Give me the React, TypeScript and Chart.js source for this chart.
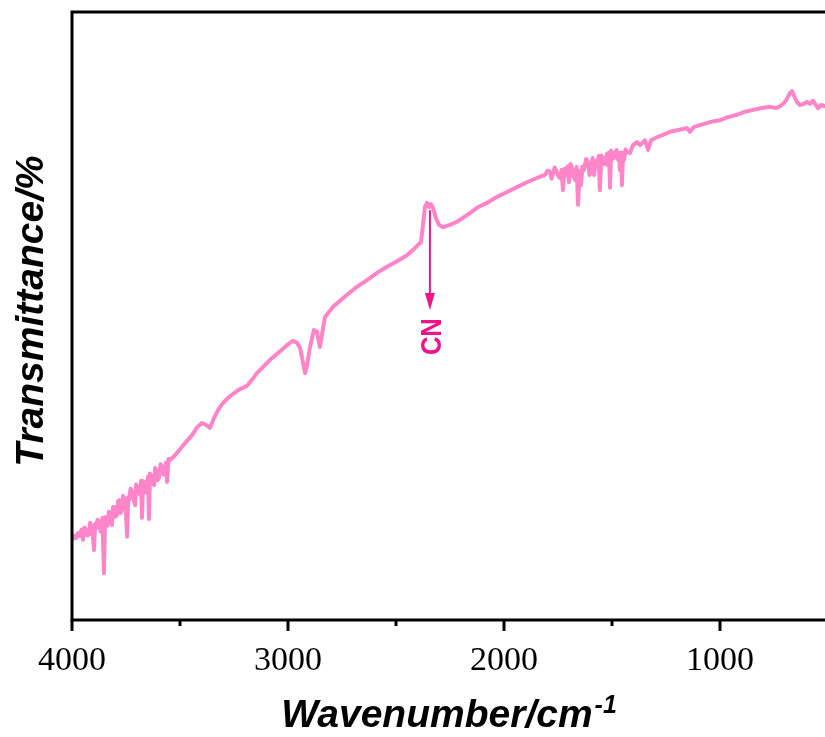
import React, { useEffect, useRef } from 'react';
import { Chart, registerables } from 'chart.js';

Chart.register(...registerables);

// Wavenumber (cm^-1) of each sampled point of the spectrum
const wavenumbers = [
  4000, 3990, 3981, 3972, 3963, 3956, 3949, 3942, 3935, 3928, 3921, 3916, 3912, 3905, 3898, 3893,
  3889, 3882, 3875, 3870, 3866, 3859, 3852, 3847, 3843, 3836, 3829, 3822, 3815, 3810, 3806, 3799,
  3792, 3787, 3782, 3775, 3769, 3764, 3759, 3752, 3745, 3740, 3736, 3729, 3722, 3715, 3708, 3703,
  3699, 3692, 3685, 3680, 3676, 3671, 3667, 3660, 3653, 3648, 3644, 3639, 3634, 3627, 3620, 3615,
  3611, 3604, 3597, 3590, 3583, 3576, 3569, 3564, 3560, 3553, 3546,
  3523, 3500, 3472, 3444, 3421, 3398, 3380, 3361, 3343, 3324,
  3301, 3269, 3231, 3190, 3167, 3144, 3116, 3083, 3046, 3005, 2977, 2958, 2944, 2931, 2921, 2912,
  2898, 2880, 2866, 2852, 2843, 2829, 2792, 2759, 2727, 2681, 2634, 2588, 2542, 2495, 2449, 2412,
  2384, 2375, 2366, 2356, 2347, 2338, 2329, 2315, 2301, 2282, 2250, 2218, 2171, 2125, 2079, 2032,
  1986, 1940, 1894, 1847,
  1810, 1798, 1787, 1780, 1773, 1766, 1759, 1750, 1741, 1734, 1727, 1720, 1713, 1706, 1699, 1692,
  1685, 1678, 1671, 1664, 1657, 1650, 1644, 1637, 1630, 1620, 1611, 1604, 1597, 1590, 1583, 1576,
  1569, 1562, 1556, 1549, 1542, 1535, 1528, 1523, 1519, 1514, 1509, 1504, 1500, 1493, 1486, 1479,
  1472, 1467, 1463, 1458, 1454, 1449, 1444, 1437,
  1431, 1417, 1403, 1384, 1370, 1347, 1333, 1319, 1292, 1264, 1231, 1194, 1153, 1139, 1120, 1093,
  1046, 1000, 963, 921, 884, 847, 806, 768, 741, 722, 704, 690, 676, 667, 657, 644,
  630, 611, 597, 583, 569, 556, 546, 532, 514,
];

// Transmittance (arbitrary %, axis unlabeled)
const transmittance = [
  13.2, 13.9, 13.5, 14.3, 13.8, 14.9, 13.2, 15.2, 14.8, 13.9, 14.1, 16.0, 15.6, 14.6, 11.5, 15.8,
  15.1, 16.5, 16.1, 15.0, 14.5, 16.8, 7.7, 16.9, 16.4, 15.5, 17.8, 16.9, 15.6, 18.6, 18.4, 17.0,
  17.3, 19.5, 19.7, 17.6, 18.1, 20.4, 20.1, 18.9, 13.7, 20.2, 19.7, 21.6, 21.1, 19.8, 18.9, 22.3,
  22.0, 20.9, 20.6, 22.9, 16.8, 22.8, 22.5, 21.0, 21.4, 23.6, 16.6, 24.1, 23.8, 22.5, 22.2, 25.0,
  24.7, 23.0, 23.4, 25.6, 25.3, 23.9, 24.3, 25.9, 22.7, 26.5, 26.3,
  27.1, 28.1, 29.3, 30.4, 31.7, 32.4, 32.1, 31.6, 33.2, 34.5,
  35.7, 36.8, 37.8, 38.5, 39.5, 40.6, 41.6, 42.8, 43.9, 45.2, 45.9, 45.6, 44.7, 42.4, 40.6, 41.9,
  44.9, 47.7, 47.4, 44.9, 46.9, 49.8, 51.5, 52.5, 53.5, 54.8, 55.9, 57.1, 58.1, 59.0, 60.0, 61.2,
  62.2, 65.0, 67.9, 68.6, 67.9, 68.4, 67.8, 66.1, 65.0, 64.6, 65.0, 65.5, 66.6, 67.8, 68.6, 69.6,
  70.4, 71.2, 72.0, 72.7,
  73.2, 73.9, 73.7, 72.6, 73.4, 74.4, 74.0, 73.1, 72.7, 74.0, 70.7, 74.2, 73.2, 74.6, 72.0, 75.0,
  74.3, 73.0, 72.4, 74.5, 68.3, 73.8, 71.5, 74.6, 74.0, 75.8, 75.3, 73.2, 74.3, 76.0, 73.2, 75.5,
  74.8, 76.3, 70.7, 76.4, 76.0, 75.0, 75.7, 76.7, 74.8, 76.9, 71.1, 77.2, 77.0, 75.9, 76.5, 77.3,
  75.7, 76.8, 74.0, 76.9, 71.5, 76.6, 75.7, 77.4,
  77.0, 76.8, 78.1, 78.6, 78.1, 78.9, 77.3, 78.9, 79.4, 79.8, 80.3, 80.6, 80.9, 80.3, 81.1, 81.4,
  81.9, 82.2, 82.7, 83.1, 83.6, 83.9, 84.2, 84.4, 84.2, 84.5, 85.0, 85.7, 86.7, 87.0, 86.2, 85.2,
  84.7, 84.9, 85.2, 84.9, 85.4, 84.7, 84.2, 84.7, 84.5,
];

const xMin = 500;
const xMax = 4000;
const yMin = 0;
const yMax = 100;
const tickValues = [4000, 3500, 3000, 2500, 2000, 1500, 1000, 500];
const majorTicks = [4000, 3000, 2000, 1000];
const xTickLabels = ['4000', '3000', '2000', '1000'];

const xTitleMain = 'Wavenumber/cm';
const xTitleSup = '-1';
const yTitle = 'Transmittance/%';

const annotationLabel = 'CN';
const annotationWavenumber = 2343;
const arrowStart = 67.4;
const arrowEnd = 51.0;
const annotationLabelAt = 46.6;

const LINE_COLOR = '#ff84c8';
const MARK_COLOR = '#f0148c';

const decorPlugin = {
  id: 'decor',
  afterDraw(chart: any) {
    const { ctx, chartArea, scales } = chart;
    const xs = scales.x;
    const ys = scales.y;
    const { left, top, right, bottom } = chartArea;
    ctx.save();

    // frame
    ctx.strokeStyle = '#000';
    ctx.lineWidth = 3;
    ctx.strokeRect(left, top, right - left, bottom - top);

    // ticks (outward)
    ctx.lineWidth = 3;
    for (const v of tickValues) {
      const px = Math.round(xs.getPixelForValue(v));
      const len = majorTicks.includes(v) ? 11 : 6;
      ctx.beginPath();
      ctx.moveTo(px, bottom);
      ctx.lineTo(px, bottom + len);
      ctx.stroke();
    }

    // arrow annotation
    const ax = xs.getPixelForValue(annotationWavenumber);
    const ay1 = ys.getPixelForValue(arrowStart);
    const ay2 = ys.getPixelForValue(arrowEnd);
    ctx.strokeStyle = MARK_COLOR;
    ctx.fillStyle = MARK_COLOR;
    ctx.lineWidth = 2;
    ctx.beginPath();
    ctx.moveTo(ax, ay1);
    ctx.lineTo(ax, ay2 - 14);
    ctx.stroke();
    ctx.beginPath();
    ctx.moveTo(ax, ay2);
    ctx.lineTo(ax - 5, ay2 - 17);
    ctx.lineTo(ax + 5, ay2 - 17);
    ctx.closePath();
    ctx.fill();

    // CN label (rotated)
    const ly = ys.getPixelForValue(annotationLabelAt);
    ctx.save();
    ctx.translate(ax + 11, ly);
    ctx.rotate(-Math.PI / 2);
    ctx.scale(0.85, 1);
    ctx.font = 'bold 30px "Liberation Sans", Arial, sans-serif';
    ctx.textAlign = 'center';
    ctx.textBaseline = 'alphabetic';
    ctx.fillText(annotationLabel, 0, 0);
    ctx.restore();

    // x-axis title with superscript
    ctx.fillStyle = '#000';
    const mainFont = 'bold italic 39px "Liberation Sans", Arial, sans-serif';
    const supFont = 'bold italic 25px "Liberation Sans", Arial, sans-serif';
    ctx.font = mainFont;
    const wMain = ctx.measureText(xTitleMain).width;
    ctx.font = supFont;
    const wSup = ctx.measureText(xTitleSup).width;
    const total = wMain + 2 + wSup;
    const cx = 449;
    const startX = cx - total / 2;
    ctx.textAlign = 'left';
    ctx.textBaseline = 'alphabetic';
    ctx.font = mainFont;
    ctx.fillText(xTitleMain, startX, 727);
    ctx.font = supFont;
    ctx.fillText(xTitleSup, startX + wMain + 2, 713);

    // y-axis title (rotated)
    ctx.save();
    ctx.translate(43, 311);
    ctx.rotate(-Math.PI / 2);
    ctx.font = mainFont;
    ctx.textAlign = 'center';
    ctx.textBaseline = 'alphabetic';
    ctx.fillText(yTitle, 0, 0);
    ctx.restore();

    ctx.restore();
  },
};

export default function App() {
  const canvasRef = useRef<HTMLCanvasElement | null>(null);

  useEffect(() => {
    if (!canvasRef.current) return;
    const data = wavenumbers.map((w, i) => ({ x: w, y: transmittance[i] }));
    const chart = new Chart(canvasRef.current, {
      type: 'line',
      data: {
        datasets: [
          {
            data,
            borderColor: LINE_COLOR,
            borderWidth: 4,
            pointRadius: 0,
            tension: 0,
            borderJoinStyle: 'round',
            borderCapStyle: 'round',
            fill: false,
          },
        ],
      },
      options: {
        animation: false,
        responsive: false,
        devicePixelRatio: 1,
        layout: { padding: { left: 72, top: 12, right: 12, bottom: 0 } },
        plugins: { legend: { display: false }, tooltip: { enabled: false } },
        scales: {
          x: {
            type: 'linear',
            min: xMin,
            max: xMax,
            reverse: true,
            grid: { display: false, drawTicks: false },
            border: { display: false },
            ticks: {
              stepSize: 500,
              autoSkip: false,
              maxRotation: 0,
              padding: 21,
              color: '#000',
              font: { family: '"Liberation Serif", "Times New Roman", serif', size: 34 },
              callback: (v: any) => {
                const i = majorTicks.indexOf(Number(v));
                return i >= 0 ? xTickLabels[i] : '';
              },
            },
            afterFit: (s: any) => {
              s.height = 117;
              s.paddingLeft = 0;
              s.paddingRight = 0;
            },
          },
          y: { display: false, min: yMin, max: yMax },
        },
      },
      plugins: [decorPlugin],
    } as any);
    return () => chart.destroy();
  }, []);

  return (
    <div style={{ position: 'fixed', left: 0, top: 0, width: 825, height: 737, overflow: 'hidden', background: '#fff' }}>
      <canvas ref={canvasRef} width={840} height={737} style={{ display: 'block' }} />
    </div>
  );
}
